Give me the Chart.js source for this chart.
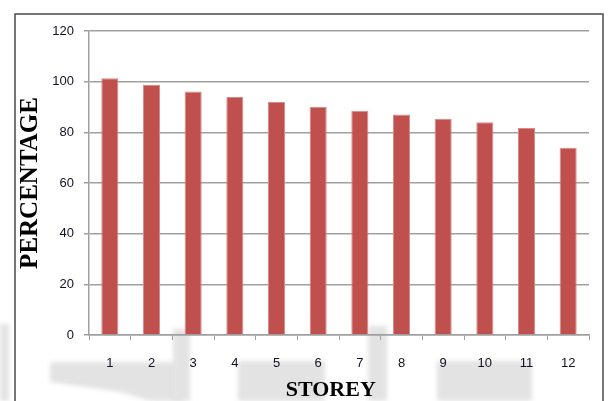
<!DOCTYPE html>
<html>
<head>
<meta charset="utf-8">
<script src="https://cdn.jsdelivr.net/npm/chart.js@4.4.1/dist/chart.umd.min.js"></script>
<style>
  html, body { margin: 0; padding: 0; background: #fff; }
  #wrap { width: 608px; height: 401px; position: relative; }
</style>
</head>
<body>
<div id="wrap"><canvas id="c" width="608" height="401"></canvas></div>
<script>
// Storey numbers and the percentage for each storey
const storeys = ['1', '2', '3', '4', '5', '6', '7', '8', '9', '10', '11', '12'];
const percentages = [101.3, 98.7, 96.1, 93.9, 92.0, 90.1, 88.5, 87.0, 85.4, 84.0, 81.7, 73.9];
const yTicks = [0, 20, 40, 60, 80, 100, 120];

// Page frame plus the faint grey scan marks behind the chart
const backdrop = {
  id: 'backdrop',
  beforeDraw(chart) {
    const ctx = chart.ctx;
    ctx.save();
    ctx.fillStyle = '#ffffff';
    ctx.fillRect(0, 0, chart.width, chart.height);

    ctx.filter = 'blur(2px)';
    ctx.fillStyle = '#e3e3e3';
    const shapes = [
      [[50, 362], [183, 362], [183, 401], [150, 401], [120, 392], [50, 382]],
      [[173, 329], [190, 329], [190, 401], [173, 401]],
      [[238, 361], [325, 361], [325, 401], [238, 401]],
      [[368, 326], [387, 326], [387, 401], [368, 401]],
      [[437, 361], [532, 361], [532, 401], [437, 401]],
      [[0, 324], [9, 324], [9, 401], [0, 401]]
    ];
    shapes.forEach(pts => {
      ctx.beginPath();
      ctx.moveTo(pts[0][0], pts[0][1]);
      pts.slice(1).forEach(p => ctx.lineTo(p[0], p[1]));
      ctx.closePath();
      ctx.fill();
    });
    ctx.filter = 'none';

    ctx.strokeStyle = '#4a4a4a';
    ctx.lineWidth = 1.5;
    ctx.strokeRect(15, 14, 588, 420);
    ctx.restore();
  }
};

new Chart(document.getElementById('c'), {
  type: 'bar',
  data: {
    labels: storeys,
    datasets: [{
      data: percentages,
      backgroundColor: '#C0504D',
      borderColor: '#d98a88',
      borderWidth: { top: 1, left: 1, right: 1, bottom: 0 },
      barPercentage: 0.41,
      categoryPercentage: 1.0
    }]
  },
  options: {
    responsive: false,
    animation: false,
    devicePixelRatio: 1,
    layout: { padding: { left: 16, top: 31, right: 19, bottom: 0 } },
    plugins: {
      legend: { display: false },
      tooltip: { enabled: false },
      title: { display: false }
    },
    scales: {
      x: {
        grid: {
          display: true,
          drawOnChartArea: false,
          drawTicks: true,
          tickLength: 5,
          color: '#a0a0a0',
          offset: true
        },
        border: { display: true, color: '#a0a0a0', width: 1.5 },
        ticks: {
          color: '#111122',
          font: { family: 'Liberation Sans, Arial, sans-serif', size: 13 },
          padding: 16,
          maxRotation: 0
        },
        title: {
          display: true,
          text: 'STOREY   ',
          color: '#000',
          font: { family: 'Liberation Serif, Times New Roman, serif', size: 22, weight: 'bold', lineHeight: 1 },
          padding: { top: 0, bottom: 0 }
        },
        afterFit(scale) { scale.height = 66; }
      },
      y: {
        min: 0,
        max: 120,
        afterBuildTicks(scale) { scale.ticks = yTicks.map(v => ({ value: v })); },
        grid: {
          color: '#a0a0a0',
          lineWidth: 1.5,
          drawTicks: true,
          tickLength: 5
        },
        border: { display: true, color: '#a0a0a0', width: 1.5 },
        ticks: {
          color: '#111122',
          font: { family: 'Liberation Sans, Arial, sans-serif', size: 13 },
          padding: 10
        },
        title: {
          display: true,
          text: 'PERCENTAGE',
          color: '#000',
          font: { family: 'Liberation Serif, Times New Roman, serif', size: 25, weight: 'bold', lineHeight: 1 },
          padding: { top: 2, bottom: 0 }
        },
        afterFit(scale) { scale.width = 73; }
      }
    }
  },
  plugins: [backdrop]
});
</script>
</body>
</html>
